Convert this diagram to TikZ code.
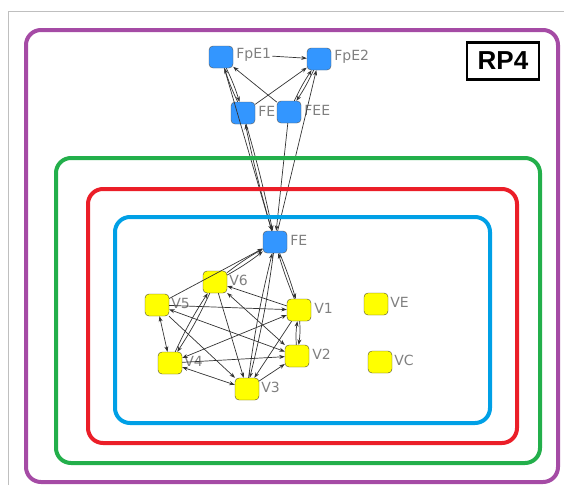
\documentclass[tikz,border=0pt]{standalone}
\usepackage{fontspec}
\setsansfont{DejaVu Sans}
\newfontfamily\rpfont{Liberation Sans}
\usepackage{tikz}
\usetikzlibrary{positioning}
\usetikzlibrary{arrows.meta}
\definecolor{fblue}{RGB}{51,150,255}
\definecolor{vyellow}{RGB}{255,255,0}
\definecolor{rpurple}{RGB}{165,75,165}
\definecolor{rgreen}{RGB}{35,175,75}
\definecolor{rred}{RGB}{235,30,40}
\definecolor{rblue}{RGB}{0,160,230}
\tikzset{
    fbox/.style={draw=black!65, fill=fblue, rounded corners=4pt, minimum width=24pt, minimum height=22pt, inner sep=0pt},
    vbox/.style={draw=black!55!olive, fill=vyellow, rounded corners=4pt, minimum width=24pt, minimum height=22pt, inner sep=0pt},
    lbl/.style={text=black!50, font=\sffamily\fontsize{14}{14}\selectfont, inner sep=1pt, yshift=2pt},
    ln/.style={draw=black!80, line width=0.7pt, -{Stealth[length=5.5pt, width=4pt]}},
    lnb/.style={draw=black!80, line width=0.7pt, {Stealth[length=5.5pt, width=4pt]}-{Stealth[length=5.5pt, width=4pt]}},
    zone/.style={line width=4pt, rounded corners=15pt}
}

\begin{document}
\begin{tikzpicture}[x=1pt,y=-1pt]
    \useasboundingbox (0,0) rectangle (564,485);
    \draw[black!25] (8,485) -- (8,11) -- (564,11);

    % upper part
    \node[fbox] (FpE1) at (221,57) {};
    \node[lbl, right=2pt of FpE1] (FpE1_t) {FpE1};
    \node[fbox] (FpE2) at (319,59) {};
    \node[lbl, right=2pt of FpE2] (FpE2_t) {FpE2};
    \node[fbox] (FE_1) at (243,113) {};
    \node[lbl, right=2pt of FE_1] (FE_1_t) {FE};
    \node[fbox] (FEE) at (289,112) {};
    \node[lbl, right=2pt of FEE] (FEE_t) {FEE};

    % cluster
    \node[fbox] (FE) at (275,242) {};
    \node[lbl, right=2pt of FE] (FE_t) {FE};
    \node[vbox] (V6) at (215,282) {};
    \node[lbl, right=1pt of V6] (V6_t) {V6};
    \node[vbox] (V5) at (157,305) {};
    \node[lbl, right=1pt of V5] (V5_t) {V5};
    \node[vbox] (V1) at (299,310) {};
    \node[lbl, right=2pt of V1] (V1_t) {V1};
    \node[vbox] (V4) at (170,363) {};
    \node[lbl, right=1pt of V4] (V4_t) {V4};
    \node[vbox] (V2) at (297,356) {};
    \node[lbl, right=2pt of V2] (V2_t) {V2};
    \node[vbox] (V3) at (247,389) {};
    \node[lbl, right=1pt of V3] (V3_t) {V3};
    \node[vbox] (VE) at (376,304) {};
    \node[lbl, right=1pt of VE] (VE_t) {VE};
    \node[vbox] (VC) at (380,362) {};
    \node[lbl, right=1pt of VC] (VC_t) {VC};

    % upper edges
    \path [ln] (FpE1_t) edge (FpE2);
    \path [ln] (FE_1) edge[bend left=4] (FpE1);
    \path [ln] (FpE1) edge[bend left=4] (FE_1);
    \path [ln] (FE_1) edge (FpE2);
    \path [ln] (FEE) edge (FpE1);
    \path [ln] (FEE) edge[bend left=4] (FpE2);
    \path [ln] (FpE2) edge[bend left=4] (FEE);
    \path [ln] (FE) edge[bend left=2] (FE_1);
    \path [ln] (FE_1) edge[bend left=2] (FE);
    \path [ln] (FpE1) edge (FE);
    \path [ln] (FEE) edge (FE);
    \path [ln] (FE) edge (FpE2);

    % cluster edges
    \path [ln] (V6) edge[bend left=4] (FE);
    \path [ln] (V6) edge[bend right=4] (FE);
    \path [ln] (V5) edge (FE);
    \path [ln] (FE) edge[bend left=3] (V1);
    \path [ln] (V1) edge[bend left=3] (FE);
    \path [ln] (FE) edge[bend left=3] (V3);
    \path [ln] (V3) edge[bend left=3] (FE);
    \path [ln] (V1) edge (V6);
    \path [ln] (V5) edge (V1);
    \path [lnb] (V5) edge (V2);
    \path [lnb] (V5) edge (V4);
    \path [ln] (V5) edge (V3);
    \path [ln] (V4) edge[bend left=4] (V6);
    \path [ln] (V6) edge[bend left=4] (V4);
    \path [ln] (V6) edge (V3);
    \path [lnb] (V6) edge (V2);
    \path [lnb] (V4) edge (V1);
    \path [ln] (V4) edge (V2);
    \path [lnb] (V4) edge (V3);
    \path [ln] (V1) edge[bend left=6] (V2);
    \path [ln] (V2) edge[bend left=6] (V1);
    \path [ln] (V1) edge (V3);
    \path [ln] (V3) edge (V2);

    % zones
    \draw[zone, rpurple] (26,30) rectangle (558,482);
    \draw[zone, rgreen] (56,158) rectangle (540,463);
    \draw[zone, rred] (88,189) rectangle (517,443);
    \draw[zone, rblue] (115,217) rectangle (490,423);

    \node[draw=black, line width=2.5pt, minimum width=72pt, minimum height=37pt, font=\rpfont\bfseries\fontsize{26}{26}\selectfont] (RP4) at (503,61) {RP4};
\end{tikzpicture}
\end{document}
